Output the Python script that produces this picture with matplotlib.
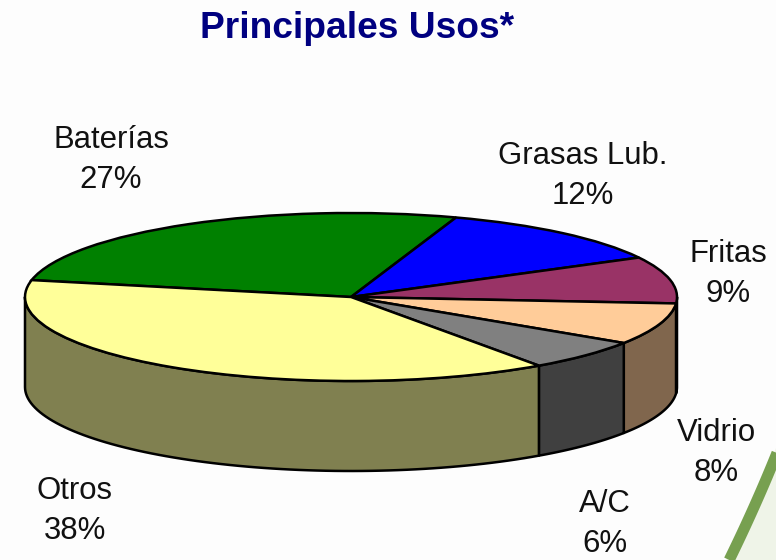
import numpy as np
import matplotlib
matplotlib.use("Agg")
import matplotlib.pyplot as plt
from matplotlib.patches import Polygon

plt.rcParams['font.family'] = ['Liberation Sans', 'DejaVu Sans']

labels = ["Baterías", "Grasas Lub.", "Fritas", "Vidrio", "A/C", "Otros"]
shares = [27, 12, 9, 8, 6, 38]
top_colors = ["#008000", "#0000FF", "#993366", "#FFCC99", "#808080", "#FFFF99"]
side_colors = ["#004000", "#000080", "#4D1A33", "#80664D", "#404040", "#808050"]
label_pos = [(111, 160), (583, 176), (728, 274), (716, 453), (605, 524), (75, 511)]

W, H = 776, 560
CX, CY, RX, RY = 351, 297, 326, 84
DEPTH = 90 / RY
EDGE = 1.8

fig = plt.figure(figsize=(W / 100, H / 100), dpi=100, facecolor="#FDFDFD")

# pie axes: one data unit is the ellipse radius in each direction
ax = fig.add_axes([0, 0, 1, 1], zorder=1)
wedges, _ = ax.pie(shares, colors=top_colors, startangle=168.4, counterclock=False,
                   wedgeprops={"edgecolor": "black", "linewidth": EDGE, "zorder": 3})
ax.set_aspect("auto")
ax.set_xlim(-CX / RX, (W - CX) / RX)
ax.set_ylim((CY - H) / RY, CY / RY)
ax.axis("off")

# side wall, only the front half of each slice shows
for w, c in zip(wedges, side_colors):
    a0 = max(w.theta1, -180)
    a1 = min(w.theta2, 0)
    if a1 <= a0:
        continue
    t = np.radians(np.linspace(a0, a1, 80))
    x = np.cos(t)
    y = np.sin(t)
    pts = np.r_[np.c_[x, y], np.c_[x[::-1], y[::-1] - DEPTH]]
    ax.add_patch(Polygon(pts, closed=True, facecolor=c, edgecolor="black",
                         linewidth=EDGE, zorder=2, joinstyle="round"))

# overlay in pixel coordinates for the text and corner decoration
over = fig.add_axes([0, 0, 1, 1], zorder=2)
over.set_xlim(0, W)
over.set_ylim(H, 0)
over.axis("off")

yy = np.linspace(448, 560, 30)
edge_x = 776 - (yy - 448) * 0.40 - ((yy - 448) / 112) ** 2 * 5
over.add_patch(Polygon(np.r_[np.c_[edge_x, yy], [[776, 560]]], closed=True,
                       facecolor="#EFF4E8", edgecolor="none"))
over.plot(edge_x + 3, yy, color="#77A050", lw=8, solid_capstyle="butt")

over.text(357, 29, "Principales Usos*", color="#000080", fontsize=26.7,
          fontweight="bold", ha="center", va="center")

for name, pct, (px, py) in zip(labels, shares, label_pos):
    over.text(px, py, f"{name}\n{pct}%", color="#111111", fontsize=22.4,
              ha="center", va="center", linespacing=1.45)

fig.savefig("out.png", dpi=100, facecolor=fig.get_facecolor())
